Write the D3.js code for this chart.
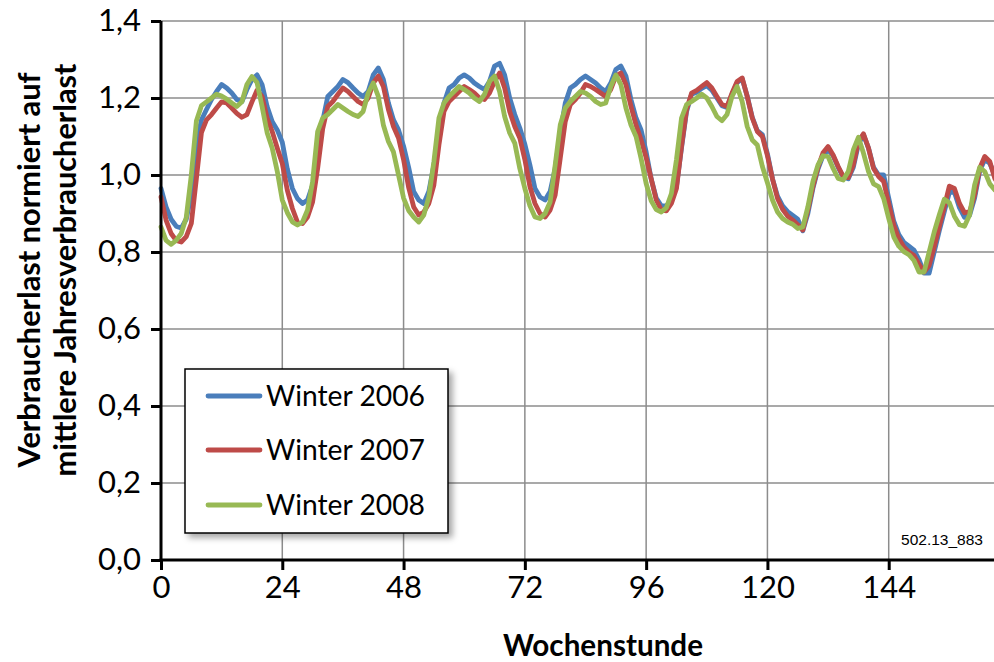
<!DOCTYPE html>
<html><head><meta charset="utf-8">
<script src="https://cdn.jsdelivr.net/npm/d3@7"></script>
<style>
body{margin:0;background:#fff;}
svg{display:block;font-family:Lato,'Open Sans',sans-serif;}
</style>
</head><body>
<svg id="chart" width="994" height="662"></svg>
<script>
// ---------- DATA ----------
const xTicks = [0, 24, 48, 72, 96, 120, 144];
const xGrid = [24, 48, 72, 96, 120, 144, 168];
const yTicks = [0, 0.2, 0.4, 0.6, 0.8, 1.0, 1.2, 1.4];
const seriesNames = ["Winter 2006", "Winter 2007", "Winter 2008"];
const seriesColors = ["#4a7ebb", "#be4b48", "#98b954"];

const winter2006 = [
0.965,0.917,0.885,0.867,0.862,0.885,0.95,1.08,1.143,1.17,
1.196,1.217,1.235,1.226,1.213,1.196,1.19,1.222,1.248,1.26,
1.235,1.178,1.139,1.117,1.085,1.015,0.965,0.939,0.926,0.935,
0.974,1.05,1.14,1.204,1.217,1.23,1.248,1.24,1.226,1.213,
1.204,1.217,1.26,1.278,1.248,1.187,1.143,1.117,1.075,1.02,
0.957,0.935,0.926,0.957,1.026,1.113,1.187,1.226,1.235,1.252,
1.26,1.252,1.239,1.23,1.222,1.243,1.283,1.29,1.26,1.2,
1.157,1.122,1.08,1.026,0.965,0.943,0.935,0.957,1.017,1.109,
1.187,1.226,1.235,1.248,1.257,1.248,1.239,1.226,1.217,1.239,
1.274,1.283,1.257,1.196,1.148,1.117,1.06,0.99,0.94,0.92,
0.92,0.935,0.97,1.07,1.165,1.21,1.215,1.225,1.232,1.22,
1.2,1.18,1.175,1.21,1.24,1.25,1.205,1.15,1.115,1.105,
1.055,0.99,0.945,0.92,0.905,0.895,0.885,0.855,0.9,0.965,
1.015,1.05,1.065,1.05,1.02,0.995,0.99,1.02,1.08,1.105,
1.07,1.02,1.0,1.0,0.94,0.88,0.845,0.825,0.815,0.805,
0.78,0.745,0.745,0.8,0.855,0.905,0.955,0.955,0.915,0.89,
0.895,0.94,1.01,1.04,1.03,1.0,0.98,0.96
];
const winter2007 = [
0.943,0.883,0.848,0.83,0.826,0.84,0.874,0.99,1.11,1.143,
1.157,1.174,1.19,1.187,1.174,1.16,1.15,1.157,1.19,1.22,
1.204,1.148,1.113,1.07,1.03,0.96,0.913,0.878,0.874,0.891,
0.93,1.017,1.12,1.178,1.191,1.209,1.226,1.217,1.204,1.191,
1.183,1.2,1.239,1.257,1.23,1.17,1.126,1.096,1.04,0.968,
0.917,0.896,0.904,0.926,0.974,1.078,1.165,1.191,1.204,1.217,
1.23,1.222,1.213,1.2,1.196,1.213,1.243,1.265,1.226,1.165,
1.126,1.096,1.04,0.97,0.926,0.9,0.891,0.909,0.948,1.043,
1.139,1.183,1.196,1.213,1.235,1.23,1.222,1.213,1.204,1.222,
1.257,1.265,1.235,1.178,1.13,1.091,1.045,0.99,0.935,0.909,
0.907,0.926,0.965,1.074,1.17,1.213,1.22,1.23,1.24,1.226,
1.204,1.183,1.178,1.213,1.243,1.252,1.204,1.148,1.113,1.1,
1.05,0.99,0.939,0.911,0.893,0.883,0.871,0.857,0.909,0.97,
1.02,1.058,1.074,1.052,1.022,0.996,0.993,1.026,1.087,1.107,
1.07,1.017,0.996,0.983,0.926,0.87,0.835,0.813,0.8,0.791,
0.768,0.748,0.765,0.813,0.865,0.917,0.971,0.965,0.926,0.902,
0.904,0.948,1.017,1.048,1.035,0.991,0.97,0.95
];
const winter2008 = [
0.865,0.83,0.82,0.83,0.848,0.89,1.0,1.14,1.18,1.19,
1.2,1.21,1.205,1.197,1.187,1.178,1.19,1.235,1.256,1.24,
1.178,1.11,1.07,1.01,0.935,0.902,0.878,0.87,0.878,0.909,
0.983,1.113,1.148,1.157,1.17,1.183,1.174,1.165,1.157,1.152,
1.165,1.213,1.239,1.204,1.13,1.087,1.06,1.0,0.94,0.908,
0.891,0.878,0.896,0.943,1.035,1.148,1.187,1.204,1.217,1.23,
1.222,1.213,1.2,1.191,1.209,1.243,1.257,1.217,1.152,1.109,
1.083,1.017,0.965,0.92,0.891,0.887,0.9,0.93,1.026,1.13,
1.174,1.191,1.204,1.217,1.213,1.204,1.191,1.183,1.187,1.23,
1.26,1.235,1.174,1.13,1.1,1.043,0.978,0.933,0.91,0.904,
0.915,0.952,1.04,1.148,1.183,1.191,1.2,1.21,1.2,1.178,
1.152,1.141,1.157,1.204,1.23,1.191,1.126,1.091,1.078,1.022,
0.98,0.935,0.904,0.887,0.878,0.872,0.861,0.865,0.917,0.983,
1.026,1.05,1.048,1.017,0.991,0.987,1.009,1.065,1.098,1.057,
1.009,0.977,0.97,0.939,0.887,0.839,0.815,0.801,0.793,0.778,
0.748,0.748,0.8,0.852,0.896,0.937,0.928,0.893,0.871,0.867,
0.896,0.974,1.02,1.009,0.977,0.961,0.955,0.95
];
const seriesValues = [winter2006, winter2007, winter2008];

// ---------- CHART ----------
const svg = d3.select("#chart");
const x = d3.scaleLinear().domain([0, 168]).range([161, 1010]);
const y = d3.scaleLinear().domain([0, 1.4]).range([560, 21]);

function fitWidth(sel, target) {
  sel.each(function () {
    const fs = parseFloat(this.getAttribute("font-size"));
    const w = this.getComputedTextLength();
    if (w > 0) this.setAttribute("font-size", (fs * target / w).toFixed(2));
  });
}

// grid
const grid = svg.append("g").attr("stroke", "#8c8c8c").attr("stroke-width", 1.5);
grid.selectAll("line.h").data(yTicks.filter(d => d > 0)).join("line")
  .attr("x1", x(0)).attr("x2", x(168)).attr("y1", d => y(d)).attr("y2", d => y(d));
grid.selectAll("line.v").data(xGrid).join("line")
  .attr("y1", y(0)).attr("y2", y(1.4)).attr("x1", d => x(d)).attr("x2", d => x(d));

// lines
const line = d3.line().x((d, i) => x(i)).y(d => y(d)).curve(d3.curveLinear);
svg.append("g").selectAll("path").data(seriesValues).join("path")
  .attr("d", line)
  .attr("fill", "none")
  .attr("stroke", (d, i) => seriesColors[i])
  .attr("stroke-width", 4.8)
  .attr("stroke-linejoin", "round")
  .attr("stroke-linecap", "round");

// axes
const yAxis = svg.append("g").attr("transform", `translate(${x(0)},0)`)
  .call(d3.axisLeft(y).tickValues(yTicks).tickSize(10).tickSizeOuter(0).tickPadding(10)
    .tickFormat(d => d.toFixed(1).replace(".", ",")));
const xAxis = svg.append("g").attr("transform", `translate(0,${y(0)})`)
  .call(d3.axisBottom(x).tickValues(xTicks).tickSize(10).tickSizeOuter(0).tickPadding(6)
    .tickFormat(d => String(d)));
[yAxis, xAxis].forEach(a => {
  a.select(".domain").attr("stroke", "#000").attr("stroke-width", 3);
  a.selectAll(".tick line").attr("stroke", "#000").attr("stroke-width", 3);
  a.selectAll(".tick text").attr("font-size", 31).attr("fill", "#000")
    .attr("font-family", "Lato, 'Open Sans', sans-serif");
});
xAxis.select(".domain").attr("d", `M${x(0) - 1.5},0H${x(168)}`);
yAxis.select(".domain").attr("d", `M0,${y(0) + 1.5}V${y(1.4)}`);

// axis titles
const xt = svg.append("text").attr("x", 603).attr("y", 656).attr("text-anchor", "middle")
  .attr("font-weight", "bold").attr("font-size", 29).text("Wochenstunde");
fitWidth(xt, 200);

const yTitle = ["Verbraucherlast normiert auf", "mittlere Jahresverbraucherlast"];
const yTitleBase = [40, 76];
const yTitleW = [395, 413];
yTitle.forEach((t, i) => {
  const el = svg.append("text")
    .attr("transform", `translate(${yTitleBase[i]},270) rotate(-90)`)
    .attr("text-anchor", "middle").attr("font-weight", "bold").attr("font-size", 28).text(t);
  fitWidth(el, yTitleW[i]);
});

// id label
const idl = svg.append("text").attr("x", 983).attr("y", 545).attr("text-anchor", "end")
  .attr("font-family", "'Liberation Sans', Arial, sans-serif").attr("font-size", 14).text("502.13_883");
fitWidth(idl, 82);

// legend
const defs = svg.append("defs");
const f = defs.append("filter").attr("id", "shadow").attr("x", "-10%").attr("y", "-10%")
  .attr("width", "130%").attr("height", "130%");
f.append("feDropShadow").attr("dx", 4).attr("dy", 4).attr("stdDeviation", 3)
  .attr("flood-color", "#000").attr("flood-opacity", 0.35);
const lg = svg.append("g");
lg.append("rect").attr("x", 185).attr("y", 369).attr("width", 263).attr("height", 164)
  .attr("fill", "#fff").attr("stroke", "#000").attr("stroke-width", 1.5).attr("filter", "url(#shadow)");
const rowY = [396, 450, 505];
const items = lg.selectAll("g.item").data(seriesNames).join("g");
items.append("line").attr("x1", 208).attr("x2", 260)
  .attr("y1", (d, i) => rowY[i]).attr("y2", (d, i) => rowY[i])
  .attr("stroke", (d, i) => seriesColors[i]).attr("stroke-width", 4.8).attr("stroke-linecap", "round");
const lt = items.append("text").attr("x", 266).attr("y", (d, i) => rowY[i]).attr("dy", "0.36em")
  .attr("font-size", 29).text(d => d);
fitWidth(lt, 159);
</script>
</body></html>
